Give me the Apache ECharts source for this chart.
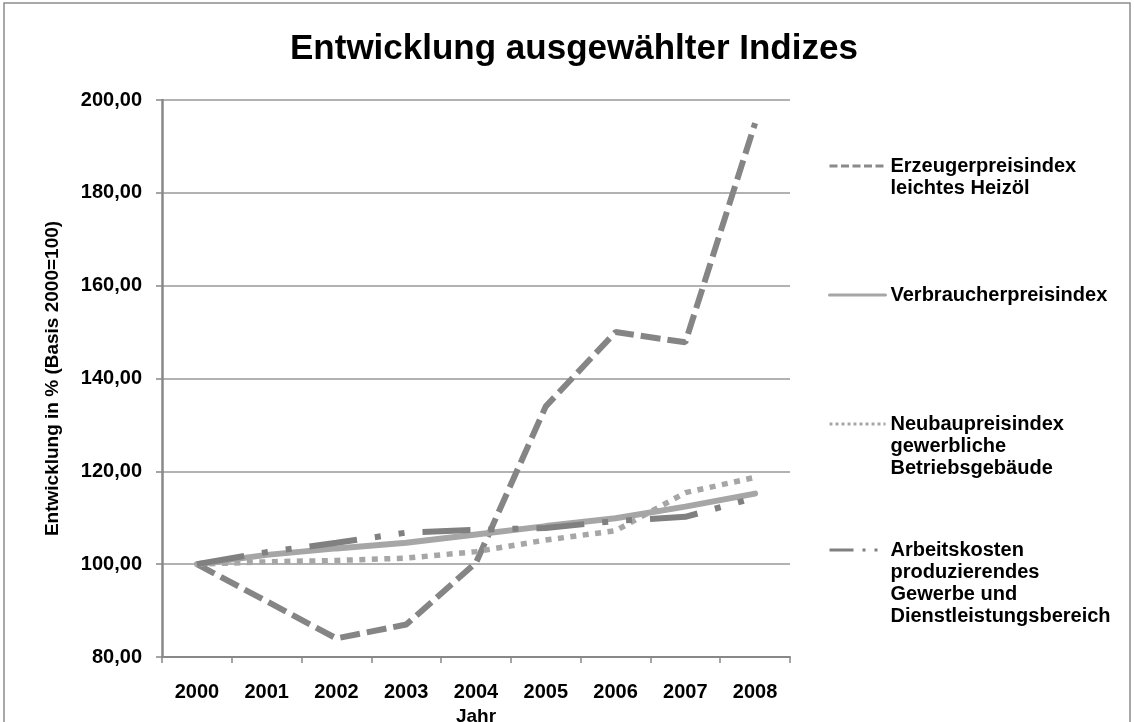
<!DOCTYPE html>
<html>
<head>
<meta charset="utf-8">
<script src="https://cdn.jsdelivr.net/npm/echarts@6/dist/echarts.min.js"></script>
<style>
  html, body { margin: 0; padding: 0; background: #fff; }
  #chart { width: 1134px; height: 722px; }
</style>
</head>
<body>
<div id="chart"></div>
<script>
// Jahre (Kategorien der x-Achse)
const years = ['2000', '2001', '2002', '2003', '2004', '2005', '2006', '2007', '2008'];

// Indexwerte, Basis 2000 = 100
const heizoel = [100, 92, 84, 87, 100.3, 134, 150, 147.8, 195];
const verbraucher = [100, 102.0, 103.4, 104.6, 106.4, 108.2, 109.9, 112.4, 115.2];
const neubau = [100, 100.5, 100.8, 101.3, 102.7, 105.2, 107.2, 115.4, 118.7];
const arbeitskosten = [100, 102.6, 104.6, 106.8, 107.4, 107.8, 109.3, 110.2, 114.3];

// Serienbezeichnungen
const names = [
  'Erzeugerpreisindex\nleichtes Heizöl',
  'Verbraucherpreisindex',
  'Neubaupreisindex\ngewerbliche\nBetriebsgebäude',
  'Arbeitskosten\nproduzierendes\nGewerbe und\nDienstleistungsbereich'
];

// y-Achse
const yMin = 80, yMax = 200, yStep = 20;

const FONT = '"Liberation Sans", Arial, sans-serif';
const LINE_H = 22.3;
const legendIconY = [166, 295, 424, 550];
const legendDash = [[8, 3.5], 'solid', [3, 3], [24, 9, 3, 9, 3, 9]];
const legendColor = ['#8a8a8a', '#a6a6a6', '#a6a6a6', '#808080'];

// Jeder Legendeneintrag steht mit seiner ersten Zeile neben dem Linien-Symbol:
// der Text wird um die Mitte zentriert, daher Leerzeilen davor.
function legendFor(i) {
  const n = names[i].split('\n').length;
  return {
    show: true,
    orient: 'vertical',
    left: 828,
    top: legendIconY[i] - (2 * n - 1) * LINE_H / 2,
    padding: 0,
    itemWidth: 56,
    itemHeight: 10,
    selectedMode: false,
    data: [names[i]],
    formatter: name => ' \n'.repeat(n - 1) + name,
    itemStyle: { opacity: 0, color: 'rgba(0,0,0,0)', borderWidth: 0 },
    lineStyle: { width: 3, type: legendDash[i], color: legendColor[i] },
    textStyle: {
      fontFamily: FONT,
      fontWeight: 'bold',
      fontSize: 20,
      color: '#000',
      lineHeight: LINE_H
    }
  };
}

const chart = echarts.init(document.getElementById('chart'), null, { renderer: 'canvas' });

chart.setOption({
  animation: false,
  backgroundColor: '#fff',
  title: {
    text: 'Entwicklung ausgewählter Indizes',
    left: 290,
    top: 32,
    padding: 0,
    textStyle: { fontFamily: FONT, fontWeight: 'bold', fontSize: 35, color: '#000' }
  },
  graphic: [{
    type: 'rect',
    shape: { x: 4, y: 3, width: 1126, height: 760 },
    style: { fill: 'none', stroke: '#8c8c8c', lineWidth: 1.5 },
    silent: true
  }],
  legend: [legendFor(0), legendFor(1), legendFor(2), legendFor(3)],
  grid: { left: 162, right: 344, top: 100, bottom: 65, outerBoundsMode: 'none', containLabel: false },
  xAxis: {
    type: 'category',
    data: years,
    boundaryGap: true,
    name: 'Jahr',
    nameLocation: 'middle',
    nameGap: 39,
    nameTextStyle: { fontFamily: FONT, fontWeight: 'bold', fontSize: 19, color: '#000' },
    axisLine: { lineStyle: { color: '#888', width: 2 } },
    axisTick: { show: true, length: 6, lineStyle: { color: '#888', width: 1.5 } },
    axisLabel: { fontFamily: FONT, fontWeight: 'bold', fontSize: 20, color: '#000', margin: 25 }
  },
  yAxis: {
    type: 'value',
    min: yMin,
    max: yMax,
    interval: yStep,
    name: 'Entwicklung in % (Basis 2000=100)',
    nameLocation: 'middle',
    nameGap: 100,
    nameTextStyle: { fontFamily: FONT, fontWeight: 'bold', fontSize: 19, color: '#000' },
    axisLine: { show: true, lineStyle: { color: '#888', width: 2.5 } },
    axisTick: { show: true, length: 6, lineStyle: { color: '#888', width: 1.5 } },
    splitLine: { show: true, lineStyle: { color: '#999', width: 1.5 } },
    axisLabel: {
      fontFamily: FONT, fontWeight: 'bold', fontSize: 20, color: '#000', margin: 20,
      formatter: v => v.toFixed(2).replace('.', ',')
    }
  },
  series: [
    {
      name: names[0], type: 'line', data: heizoel, symbol: 'none',
      lineStyle: { color: '#858585', width: 6, type: [20, 7], cap: 'butt' },
      itemStyle: { color: '#858585' }
    },
    {
      name: names[1], type: 'line', data: verbraucher, symbol: 'none',
      lineStyle: { color: '#a6a6a6', width: 6, type: 'solid', cap: 'round' },
      itemStyle: { color: '#a6a6a6' }
    },
    {
      name: names[2], type: 'line', data: neubau, symbol: 'none',
      lineStyle: { color: '#a6a6a6', width: 5.5, type: [6, 6.5], cap: 'butt' },
      itemStyle: { color: '#a6a6a6' }
    },
    {
      name: names[3], type: 'line', data: arbeitskosten, symbol: 'none',
      lineStyle: { color: '#808080', width: 6, type: [48, 18, 6, 18, 6, 18], cap: 'butt' },
      itemStyle: { color: '#808080' }
    }
  ]
});
</script>
</body>
</html>
